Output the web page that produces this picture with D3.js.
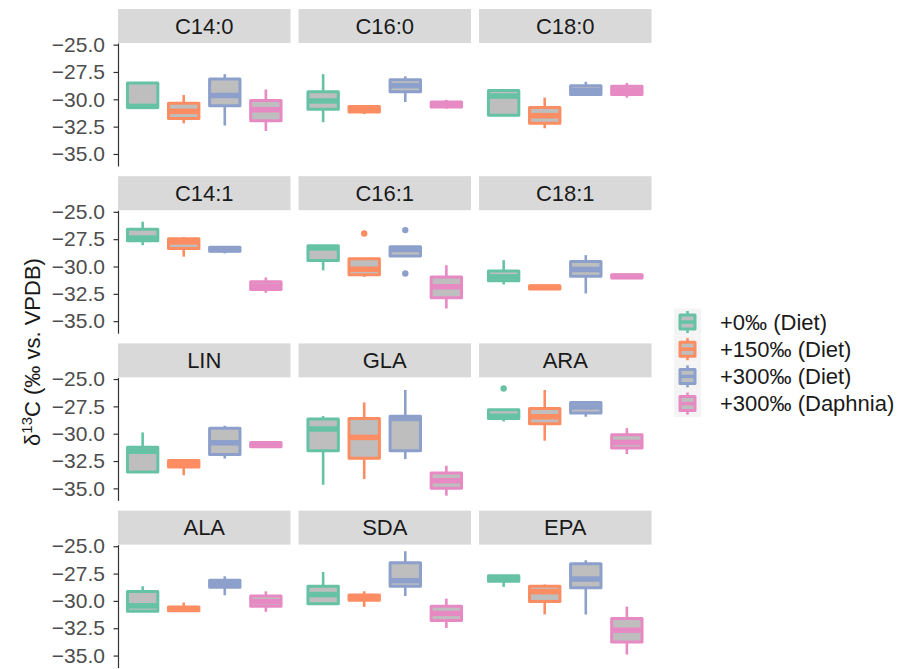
<!DOCTYPE html>
<html>
<head>
<meta charset="utf-8">
<script src="https://cdn.jsdelivr.net/npm/d3@7"></script>
<style>
  body { margin: 0; background: #fff; }
  svg { display: block; font-family: "Liberation Sans", Arial, sans-serif; }
</style>
</head>
<body>
<div id="chart"></div>
<script>
// facets, in reading order
const panels = ["C14:0", "C16:0", "C18:0", "C14:1", "C16:1", "C18:1",
                "LIN", "GLA", "ARA", "ALA", "SDA", "EPA"];
const groups = ["+0‰ (Diet)", "+150‰ (Diet)", "+300‰ (Diet)", "+300‰ (Daphnia)"];
const palette = ["#66c2a5", "#fc8d62", "#8da0cb", "#e78ac3"];
const yTicks = [-25, -27.5, -30, -32.5, -35];

// box stats, one row per panel, one value per group
const whiskerLo = [
  [-30.75, -32.2, -32.4, -32.9], [-32.1, -31.35, -30.25, -30.85], [-31.45, -32.65, -29.6, -29.85],
  [-28.05, -29.1, -28.8, -32.4], [-30.35, -30.95, -29.05, -33.84], [-31.64, -32.05, -32.47, -31.05],
  [-33.5, -33.8, -32.27, -31.2], [-34.67, -34.15, -32.32, -35.67], [-28.88, -30.64, -28.45, -31.86],
  [-30.95, -31.0, -29.48, -31.0], [-30.25, -30.55, -29.55, -32.48], [-28.72, -31.23, -31.25, -34.9]
];
const q1 = [
  [-30.75, -31.75, -30.6, -31.95], [-30.9, -31.15, -29.3, -30.7], [-31.45, -32.2, -29.55, -29.55],
  [-27.65, -28.35, -28.6, -32.1], [-29.45, -30.75, -29.05, -32.85], [-31.3, -32.05, -30.9, -31.05],
  [-33.5, -33.05, -31.9, -31.2], [-31.55, -32.25, -31.55, -35.0], [-28.6, -29.1, -28.1, -31.3],
  [-30.95, -30.9, -28.75, -30.5], [-30.25, -29.95, -28.65, -31.8], [-28.2, -30.05, -28.8, -33.75]
];
const median = [
  [-30.65, -31.1, -29.65, -30.95], [-30.15, -30.9, -28.75, -30.45], [-29.7, -31.5, -29.2, -29.2],
  [-27.4, -27.75, -28.45, -31.8], [-28.3, -30.25, -28.45, -31.85], [-30.95, -31.9, -30.27, -30.9],
  [-31.6, -32.7, -30.83, -31.0], [-29.57, -30.34, -28.6, -34.3], [-28.4, -28.45, -27.55, -30.8],
  [-30.45, -30.75, -28.45, -30.07], [-29.42, -29.7, -28.15, -31.14], [-27.95, -29.15, -28.0, -32.68]
];
const q3 = [
  [-28.5, -30.35, -28.15, -30.1], [-29.3, -30.65, -28.2, -30.25], [-29.2, -30.75, -28.75, -28.8],
  [-26.6, -27.45, -28.25, -31.4], [-28.1, -29.3, -28.2, -30.95], [-30.4, -31.75, -29.55, -30.75],
  [-31.25, -32.45, -29.5, -30.8], [-28.65, -28.6, -28.4, -33.6], [-27.8, -27.7, -27.15, -30.1],
  [-29.15, -30.55, -28.1, -29.55], [-28.65, -29.45, -26.5, -30.5], [-27.7, -28.65, -26.6, -31.6]
];
const whiskerHi = [
  [-28.45, -29.6, -27.7, -29.1], [-27.7, -30.65, -27.9, -30.05], [-29.05, -29.85, -28.4, -28.5],
  [-25.9, -27.3, -28.15, -31.0], [-28.1, -29.3, -28.2, -29.88], [-29.42, -31.75, -28.96, -30.75],
  [-29.88, -32.45, -29.27, -30.8], [-28.39, -27.14, -26.0, -32.93], [-27.8, -26.0, -27.15, -29.49],
  [-28.66, -30.15, -27.75, -29.12], [-27.35, -29.12, -25.46, -29.79], [-27.7, -28.5, -26.28, -30.52]
];
const outliers = [
  { panel: "C16:1", group: 1, value: -26.98 },
  { panel: "C16:1", group: 2, value: -26.67 },
  { panel: "C16:1", group: 2, value: -30.64 },
  { panel: "ARA", group: 0, value: -25.86 }
];

const W = 912, H = 669;
const left = 118, top0 = 9;
const panelW = 172.5, colStep = 180.5;
const stripH = 34, panelH = 123, rowStep = 167.2;
const boxFill = "#bebebe";

const svg = d3.select("#chart").append("svg")
  .attr("width", W).attr("height", H);

const x = d3.scalePoint().domain(groups).range([0, panelW]).padding(0.6);
const y = d3.scaleLinear().domain([-36.1, -24.85]).range([panelH, 0]);
const boxW = x.step() * 0.74;

panels.forEach((name, i) => {
  const col = i % 3, row = Math.floor(i / 3);
  const px = left + col * colStep;
  const py = top0 + row * rowStep + stripH;

  // strip
  svg.append("rect")
    .attr("x", px).attr("y", py - stripH)
    .attr("width", panelW).attr("height", stripH)
    .attr("fill", "#d9d9d9");
  svg.append("text")
    .attr("x", px + panelW / 2).attr("y", py - stripH / 2)
    .attr("text-anchor", "middle")
    .attr("dominant-baseline", "central")
    .attr("font-size", 22)
    .attr("fill", "#1a1a1a")
    .text(name);

  const g = svg.append("g").attr("transform", `translate(${px},${py})`);

  groups.forEach((grp, j) => {
    const cx = x(grp), c = palette[j];
    // whiskers
    g.append("line")
      .attr("x1", cx).attr("x2", cx)
      .attr("y1", y(whiskerHi[i][j])).attr("y2", y(q3[i][j]))
      .attr("stroke", c).attr("stroke-width", 2.6);
    g.append("line")
      .attr("x1", cx).attr("x2", cx)
      .attr("y1", y(q1[i][j])).attr("y2", y(whiskerLo[i][j]))
      .attr("stroke", c).attr("stroke-width", 2.6);
    // box
    g.append("rect")
      .attr("x", cx - boxW / 2).attr("width", boxW)
      .attr("y", y(q3[i][j]))
      .attr("height", Math.max(0.5, y(q1[i][j]) - y(q3[i][j])))
      .attr("fill", boxFill)
      .attr("stroke", c).attr("stroke-width", 3)
      .attr("stroke-linejoin", "round");
    // median, drawn thicker like ggplot's fatten
    g.append("line")
      .attr("x1", cx - boxW / 2).attr("x2", cx + boxW / 2)
      .attr("y1", y(median[i][j])).attr("y2", y(median[i][j]))
      .attr("stroke", c).attr("stroke-width", 5.5);
  });

  g.selectAll("circle.out")
    .data(outliers.filter(o => o.panel === name))
    .join("circle")
    .attr("class", "out")
    .attr("cx", d => x(groups[d.group]))
    .attr("cy", d => y(d.value))
    .attr("r", 3.2)
    .attr("fill", d => palette[d.group]);

  if (col === 0) {
    const ax = g.append("g")
      .call(d3.axisLeft(y).tickValues(yTicks)
        .tickFormat(d3.format(".1f"))
        .tickSizeInner(4.5).tickSizeOuter(0).tickPadding(8.5));
    ax.select(".domain").attr("stroke", "#333333").attr("stroke-width", 1.2);
    ax.selectAll(".tick line").attr("stroke", "#333333").attr("stroke-width", 1.2);
    ax.selectAll(".tick text")
      .attr("fill", "#4d4d4d")
      .attr("font-size", 21)
      .attr("font-family", "Liberation Sans, Arial, sans-serif");
  }
});

// y axis title
const yt = svg.append("text")
  .attr("transform", "translate(40,352) rotate(-90)")
  .attr("text-anchor", "middle")
  .attr("font-size", 22)
  .attr("fill", "#1a1a1a");
yt.append("tspan").text("δ");
yt.append("tspan").attr("baseline-shift", "super").attr("font-size", 15).text("13");
yt.append("tspan").text("C (‰ vs. VPDB)");

// legend
const legY = 322, legStep = 27.2;
groups.forEach((grp, j) => {
  const cy = legY + j * legStep, c = palette[j];
  const lg = svg.append("g").attr("transform", `translate(687.5,${cy})`);
  lg.append("rect")
    .attr("x", -13.5).attr("y", -13.5)
    .attr("width", 27).attr("height", 27)
    .attr("fill", "#f4f4f4");
  lg.append("line").attr("x1", 0).attr("x2", 0).attr("y1", -11).attr("y2", 11)
    .attr("stroke", c).attr("stroke-width", 2.6);
  lg.append("rect")
    .attr("x", -7.5).attr("y", -7).attr("width", 15).attr("height", 14)
    .attr("fill", boxFill).attr("stroke", c).attr("stroke-width", 3)
    .attr("stroke-linejoin", "round");
  lg.append("line").attr("x1", -7.5).attr("x2", 7.5).attr("y1", 0).attr("y2", 0)
    .attr("stroke", c).attr("stroke-width", 3.5);
  svg.append("text")
    .attr("x", 720).attr("y", cy)
    .attr("dominant-baseline", "central")
    .attr("font-size", 22)
    .attr("fill", "#1a1a1a")
    .text(grp);
});
</script>
</body>
</html>
